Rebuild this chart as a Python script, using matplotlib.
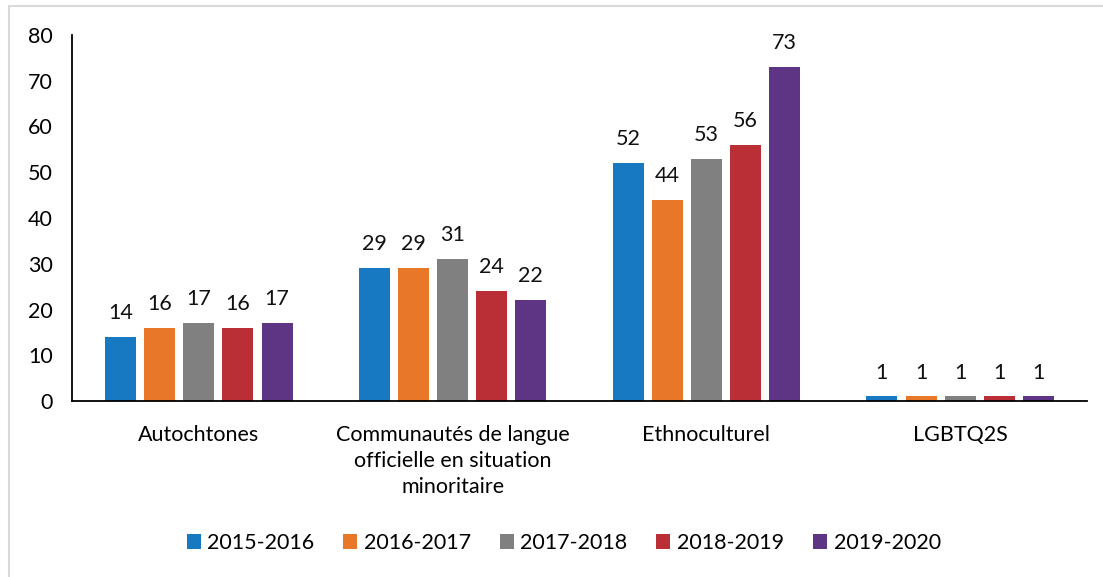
import matplotlib
matplotlib.use("Agg")
import matplotlib.pyplot as plt
import numpy as np
from matplotlib.patches import Rectangle

plt.rcParams['font.family'] = ['Lato', 'DejaVu Sans']

categories = ["Autochtones",
              "Communautés de langue\nofficielle en situation\nminoritaire",
              "Ethnoculturel",
              "LGBTQ2S"]
series_names = ["2015-2016", "2016-2017", "2017-2018", "2018-2019", "2019-2020"]
values = {
    "2015-2016": [14, 29, 52, 1],
    "2016-2017": [16, 29, 44, 1],
    "2017-2018": [17, 31, 53, 1],
    "2018-2019": [16, 24, 56, 1],
    "2019-2020": [17, 22, 73, 1],
}
colors = ["#1779C1", "#E87728", "#808080", "#BA2E36", "#5E3485"]

FS = 15.5
fig = plt.figure(figsize=(11.03, 5.77), dpi=100)
# light frame; its right and bottom edges lie outside the picture
fig.patches.append(Rectangle((8.5/1103, -0.05), 1.1, 1 - 5.5/577 + 0.05,
                             transform=fig.transFigure, fill=False,
                             edgecolor="#D9D9D9", linewidth=1.5, clip_on=False))
ax = fig.add_axes([72/1103, 1-401/577, (1087-72)/1103, (401-35)/577])

x = np.arange(len(categories))
step = 0.154
width = 0.122
for i, name in enumerate(series_names):
    offs = (i - 2) * step
    bars = ax.bar(x + offs, values[name], width, color=colors[i], label=name)
    for b, v in zip(bars, values[name]):
        ax.annotate(str(v), (b.get_x() + b.get_width()/2, v),
                    xytext=(0, 10), textcoords="offset points",
                    ha="center", va="bottom", fontsize=FS, color="#111111")

ax.set_xlim(-0.5, len(categories) - 0.5)
ax.set_ylim(0, 80)
ax.set_yticks(range(0, 81, 10))
ax.set_xticks(x)
ax.set_xticklabels(categories, fontsize=FS, linespacing=1.4)
ax.tick_params(axis='y', length=0, labelsize=FS, pad=14)
ax.tick_params(axis='x', length=0, pad=17)
for s in ["top", "right"]:
    ax.spines[s].set_visible(False)
ax.spines["left"].set_linewidth(1.3)
ax.spines["bottom"].set_linewidth(1.3)

fig.legend(loc="center", bbox_to_anchor=(0.511, 1-543/577), ncol=5,
           frameon=False, fontsize=FS, handlelength=0.65, handleheight=0.65,
           handletextpad=0.3, columnspacing=1.35)

fig.savefig("out.png", dpi=100)
